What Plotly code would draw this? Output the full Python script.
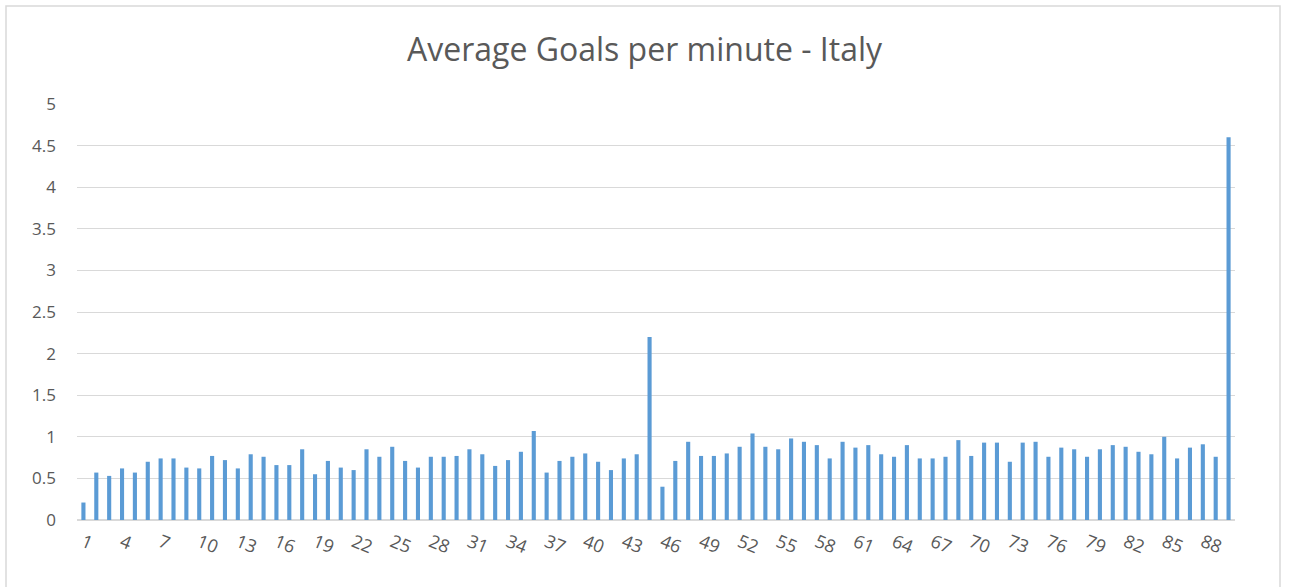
import plotly.graph_objects as go

# Minute of the match (1..90) and average goals scored in that minute
minutes = list(range(1, 91))
avg_goals = [
    0.21, 0.57, 0.53, 0.62, 0.57, 0.70, 0.74, 0.74, 0.63, 0.62,
    0.77, 0.72, 0.62, 0.79, 0.76, 0.66, 0.66, 0.85, 0.55, 0.71,
    0.63, 0.60, 0.85, 0.76, 0.88, 0.71, 0.63, 0.76, 0.76, 0.77,
    0.85, 0.79, 0.65, 0.72, 0.82, 1.07, 0.57, 0.71, 0.76, 0.80,
    0.70, 0.60, 0.74, 0.79, 2.20, 0.40, 0.71, 0.94, 0.77, 0.77,
    0.80, 0.88, 1.04, 0.88, 0.85, 0.98, 0.94, 0.90, 0.74, 0.94,
    0.87, 0.90, 0.79, 0.76, 0.90, 0.74, 0.74, 0.76, 0.96, 0.77,
    0.93, 0.93, 0.70, 0.93, 0.94, 0.76, 0.87, 0.85, 0.76, 0.85,
    0.90, 0.88, 0.82, 0.79, 1.00, 0.74, 0.87, 0.91, 0.76, 4.60,
]
tick_minutes = list(range(1, 91, 3))
y_ticks = [0, 0.5, 1, 1.5, 2, 2.5, 3, 3.5, 4, 4.5, 5]

text_color = "#595959"
grid_color = "#D9D9D9"
font_family = "Open Sans, Liberation Sans, sans-serif"

fig = go.Figure(
    go.Bar(
        x=minutes,
        y=avg_goals,
        marker=dict(color="#5B9BD5", line=dict(width=0)),
        hoverinfo="x+y",
    )
)

fig.update_layout(
    width=1289,
    height=587,
    margin=dict(l=77, r=54, t=104, b=67),
    paper_bgcolor="white",
    plot_bgcolor="white",
    bargap=0.68,
    showlegend=False,
    font=dict(family=font_family, color=text_color),
    title=dict(
        text="Average Goals per minute - Italy",
        x=0.5,
        xanchor="center",
        y=1 - 50 / 587,
        yanchor="middle",
        font=dict(size=32, color=text_color, family=font_family),
    ),
    xaxis=dict(
        range=[0.5, 90.5],
        tickmode="array",
        tickvals=tick_minutes,
        ticktext=[str(t) for t in tick_minutes],
        tickangle=22,
        tickfont=dict(size=18, color=text_color),
        showgrid=False,
        showline=True,
        linecolor=grid_color,
        linewidth=1,
        ticks="",
        ticklabelstandoff=4,
        zeroline=False,
    ),
    yaxis=dict(
        range=[0, 5],
        tickmode="array",
        tickvals=y_ticks,
        ticktext=[f"{v:g}" for v in y_ticks],
        tickfont=dict(size=17, color=text_color),
        showgrid=True,
        gridcolor=grid_color,
        gridwidth=1,
        zeroline=True,
        zerolinecolor=grid_color,
        ticks="",
        ticklabelstandoff=20,
        showline=False,
    ),
    shapes=[
        dict(
            type="rect",
            xref="paper",
            yref="paper",
            x0=(6 - 77) / 1158,
            x1=(1280 - 77) / 1158,
            y0=-0.3,
            y1=(520 - 6) / 416,
            line=dict(color="#D9D9D9", width=1.5),
            fillcolor="rgba(0,0,0,0)",
            layer="below",
        )
    ],
)

fig.write_html("out.html")
